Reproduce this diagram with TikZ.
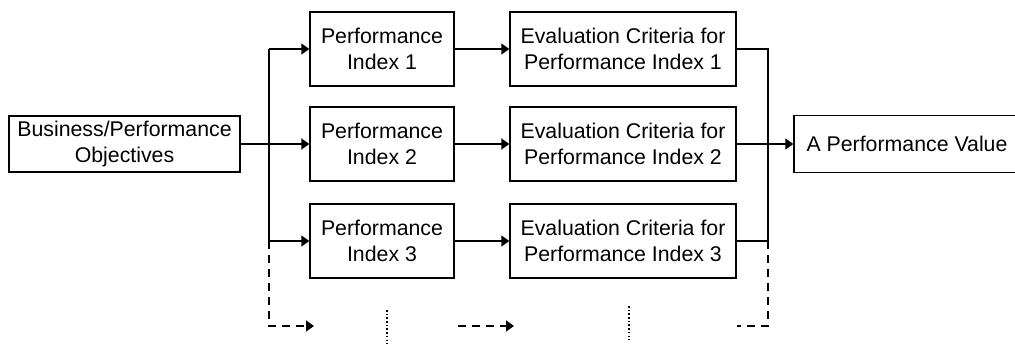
\documentclass[tikz,border=0pt]{standalone}
\usepackage{fontspec}
\setmainfont{Liberation Sans}
\usetikzlibrary{arrows.meta}
\begin{document}
\begin{tikzpicture}[x=1pt,y=-1pt,
  box/.style={draw, line width=1.4pt, align=center, inner sep=0pt,
    font=\fontsize{21.3}{25.5}\selectfont},
  objbox/.style={box, minimum width=231pt, minimum height=56pt},
  pibox/.style={box, minimum width=144pt, minimum height=74pt},
  evbox/.style={box, minimum width=226pt, minimum height=74pt},
  outbox/.style={box, minimum width=226pt, minimum height=57pt},
  link/.style={line width=1.4pt},
  arr/.style={link, -{Triangle[length=8pt,width=11pt]}},
  dashlink/.style={line width=1.4pt, dash pattern=on 8pt off 6pt},
  dashedarr/.style={dashlink, -{Triangle[length=8pt,width=11pt]}},
  dotlink/.style={line width=2.2pt, dash pattern=on 1.6pt off 2.1pt}]
\useasboundingbox (0,0) rectangle (1015,344);
\clip (0,0) rectangle (1015,344);

% boxes
\node[objbox] (obj) at (124.5,144) {Business/Performance\\Objectives};
\node[pibox] (p1) at (382,49)  {Performance\\Index 1};
\node[pibox] (p2) at (382,144) {Performance\\Index 2};
\node[pibox] (p3) at (382,241) {Performance\\Index 3};
\node[evbox] (e1) at (623,49)  {Evaluation Criteria for\\Performance Index 1};
\node[evbox] (e2) at (623,144) {Evaluation Criteria for\\Performance Index 2};
\node[evbox] (e3) at (623,241) {Evaluation Criteria for\\Performance Index 3};
\node[outbox] (out) at (907,144) {A Performance Value};

% branch points
\coordinate (lt) at (269,49);
\coordinate (lb) at (269,241);
\coordinate (ld) at (269,326);
\coordinate (lx) at (314,326);
\coordinate (mx0) at (458,326);
\coordinate (mx1) at (514,326);
\coordinate (rt) at (768,49);
\coordinate (rb) at (768,241);
\coordinate (rd) at (768,326);
\coordinate (rx) at (737,326);
\coordinate (v1t) at (387,310);
\coordinate (v1b) at (387,344);
\coordinate (v2t) at (629,306);
\coordinate (v2b) at (629,340);

% fan-out from the objectives
\draw[arr] (obj.east) -- (p2.west);
\draw[link] (lt) -- (lb);
\draw[arr] (lt) -- (p1.west);
\draw[arr] (lb) -- (p3.west);
\draw[dashedarr] (lb) -- (ld) -- (lx);

% index to criteria
\draw[arr] (p1.east) -- (e1.west);
\draw[arr] (p2.east) -- (e2.west);
\draw[arr] (p3.east) -- (e3.west);
\draw[dashedarr] (mx0) -- (mx1);

% fan-in to the performance value
\draw[link] (e1.east) -- (rt) -- (rb) -- (e3.east);
\draw[arr] (e2.east) -- (out.west);
\draw[dashlink] (rb) -- (rd) -- (rx);

% continuation marks
\draw[dotlink] (v1t) -- (v1b);
\draw[dotlink] (v2t) -- (v2b);
\end{tikzpicture}
\end{document}
